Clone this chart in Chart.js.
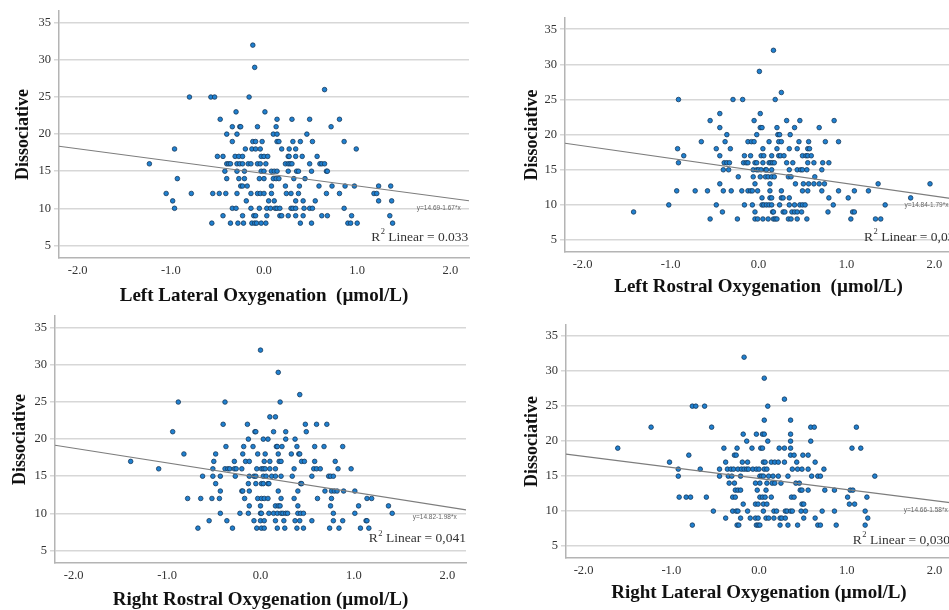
<!DOCTYPE html>
<html>
<head>
<meta charset="utf-8">
<script src="https://cdn.jsdelivr.net/npm/chart.js@4.4.1/dist/chart.umd.min.js"></script>
<style>
  html, body { margin: 0; padding: 0; background: #fff; }
  body { width: 949px; height: 610px; overflow: hidden; position: relative; }
  .panel { position: absolute; }
</style>
</head>
<body>
<div class="panel" id="w0"><canvas id="c0"></canvas></div>
<div class="panel" id="w1"><canvas id="c1"></canvas></div>
<div class="panel" id="w2"><canvas id="c2"></canvas></div>
<div class="panel" id="w3"><canvas id="c3"></canvas></div>
<script>
// ---------------- DATA ----------------
// Dissociative score levels (y values); each panel lists the x values found at each level.
const dissociativeLevels = [32, 29, 26, 25, 23, 22, 21, 20, 19, 18, 17, 16, 15, 14, 13, 12, 11, 10, 9, 8];

const leftLateralX = [
  [-0.12],
  [-0.10],
  [0.65],
  [-0.80, -0.57, -0.53, -0.16],
  [-0.30, 0.01],
  [-0.47, 0.14, 0.30, 0.49, 0.81],
  [-0.34, -0.26, -0.25, -0.07, 0.13, 0.72],
  [-0.40, -0.29, 0.10, 0.14, 0.46],
  [-0.34, -0.12, -0.09, -0.02, 0.14, 0.16, 0.31, 0.39, 0.52, 0.86],
  [-0.96, -0.20, -0.13, -0.09, -0.04, 0.19, 0.27, 0.34, 0.99],
  [-0.50, -0.44, -0.31, -0.27, -0.23, -0.03, 0.00, 0.04, 0.26, 0.27, 0.34, 0.41, 0.57],
  [-1.23, -0.40, -0.38, -0.36, -0.29, -0.26, -0.23, -0.17, -0.14, -0.07, -0.04, 0.02, 0.23, 0.26, 0.28, 0.30, 0.49, 0.60, 0.62, 0.65],
  [-0.42, -0.29, -0.21, -0.03, 0.00, 0.08, 0.11, 0.14, 0.26, 0.35, 0.37, 0.51, 0.67, 0.68],
  [-0.93, -0.40, -0.27, -0.21, -0.05, 0.00, 0.10, 0.13, 0.16, 0.32, 0.44],
  [-0.25, -0.23, -0.18, 0.08, 0.23, 0.38, 0.59, 0.73, 0.87, 0.97, 1.23, 1.36],
  [-1.05, -0.78, -0.55, -0.48, -0.41, -0.29, -0.14, -0.07, -0.04, 0.00, 0.08, 0.24, 0.29, 0.37, 0.67, 0.81, 1.18, 1.21],
  [-0.98, -0.19, 0.05, 0.11, 0.34, 0.42, 0.55, 1.23, 1.37],
  [-0.96, -0.34, -0.30, -0.14, -0.05, 0.03, 0.07, 0.12, 0.14, 0.17, 0.29, 0.31, 0.34, 0.43, 0.49, 0.52, 0.86],
  [-0.44, -0.23, -0.11, -0.09, 0.03, 0.17, 0.19, 0.26, 0.34, 0.42, 0.62, 0.68, 0.94, 1.35],
  [-0.56, -0.36, -0.28, -0.22, -0.13, -0.10, -0.08, -0.03, 0.02, 0.39, 0.51, 0.90, 0.93, 1.00, 1.38]
];

const leftRostralX = [
  [0.17],
  [0.01],
  [0.26],
  [-0.91, -0.29, -0.18, 0.19],
  [-0.44, 0.02],
  [-0.55, -0.05, 0.32, 0.47, 0.86],
  [-0.44, 0.02, 0.04, 0.21, 0.41, 0.69],
  [-0.36, -0.02, 0.22, 0.24, 0.36],
  [-0.65, -0.38, -0.12, -0.08, -0.05, 0.12, 0.23, 0.26, 0.46, 0.57, 0.76, 0.91],
  [-0.92, -0.48, -0.32, 0.05, 0.21, 0.35, 0.44, 0.56, 0.58],
  [-0.85, -0.44, -0.16, -0.09, 0.03, 0.06, 0.15, 0.23, 0.25, 0.29, 0.50, 0.54, 0.56, 0.60],
  [-0.91, -0.39, -0.36, -0.33, -0.17, -0.14, -0.12, -0.04, -0.02, 0.05, 0.12, 0.14, 0.16, 0.18, 0.32, 0.39, 0.56, 0.63, 0.73, 0.80],
  [-0.40, -0.34, -0.06, -0.02, 0.00, 0.03, 0.08, 0.09, 0.15, 0.35, 0.44, 0.48, 0.50, 0.55, 0.72],
  [-0.23, -0.06, 0.02, 0.08, 0.11, 0.15, 0.18, 0.34, 0.37, 0.64],
  [-0.44, -0.04, 0.13, 0.42, 0.51, 0.57, 0.63, 0.69, 0.75, 1.36, 1.95],
  [-0.93, -0.72, -0.58, -0.40, -0.31, -0.19, -0.12, -0.09, -0.07, -0.01, 0.13, 0.26, 0.50, 0.56, 0.72, 0.91, 1.09, 1.25],
  [0.04, 0.13, 0.15, 0.26, 0.28, 0.35, 0.80, 1.02, 1.73],
  [-1.02, -0.48, -0.16, -0.07, 0.04, 0.06, 0.09, 0.12, 0.15, 0.24, 0.35, 0.41, 0.47, 0.50, 0.53, 0.85, 1.44],
  [-1.42, -0.41, -0.04, 0.16, 0.17, 0.28, 0.30, 0.38, 0.41, 0.44, 0.49, 0.79, 1.07, 1.09],
  [-0.55, -0.24, -0.04, -0.01, 0.05, 0.11, 0.17, 0.19, 0.21, 0.34, 0.37, 0.44, 0.55, 1.05, 1.33, 1.39]
];

const rightRostralX = [
  [0.00],
  [0.19],
  [0.42],
  [-0.88, -0.38, 0.21],
  [0.10, 0.16],
  [-0.40, -0.14, 0.48, 0.60, 0.71],
  [-0.94, -0.06, -0.05, 0.14, 0.27, 0.49],
  [-0.13, 0.03, 0.08, 0.27, 0.37],
  [-0.37, -0.18, -0.08, 0.17, 0.18, 0.23, 0.39, 0.58, 0.68, 0.88],
  [-0.82, -0.48, -0.19, -0.03, 0.05, 0.19, 0.33, 0.41, 0.42],
  [-1.39, -0.50, -0.28, -0.16, -0.12, 0.04, 0.10, 0.20, 0.22, 0.44, 0.47, 0.58, 0.80],
  [-1.09, -0.51, -0.38, -0.35, -0.33, -0.28, -0.26, -0.20, -0.04, 0.01, 0.03, 0.05, 0.10, 0.16, 0.36, 0.57, 0.60, 0.64, 0.83, 0.97],
  [-0.62, -0.51, -0.43, -0.27, -0.12, -0.07, -0.05, 0.03, 0.06, 0.12, 0.16, 0.22, 0.34, 0.55, 0.73, 0.75, 0.78],
  [-0.48, -0.13, -0.05, 0.01, 0.03, 0.08, 0.09, 0.43, 0.44],
  [-0.43, -0.20, -0.19, -0.12, 0.19, 0.40, 0.69, 0.76, 0.79, 0.82, 0.89, 1.01],
  [-0.78, -0.64, -0.52, -0.44, -0.17, -0.03, 0.01, 0.04, 0.08, 0.22, 0.36, 0.61, 0.76, 1.14, 1.19],
  [-0.12, 0.00, 0.16, 0.19, 0.21, 0.40, 0.75, 1.05, 1.37],
  [-0.43, -0.22, -0.13, 0.00, 0.01, 0.09, 0.14, 0.18, 0.22, 0.24, 0.27, 0.29, 0.40, 0.43, 0.46, 0.78, 1.01, 1.41],
  [-0.55, -0.36, -0.07, 0.00, 0.04, 0.16, 0.25, 0.37, 0.42, 0.55, 0.78, 0.88, 1.13, 1.14],
  [-0.67, -0.30, -0.04, 0.01, 0.04, 0.18, 0.26, 0.39, 0.46, 0.74, 0.84, 1.07, 1.16]
];

const rightLateralX = [
  [-0.17],
  [0.06],
  [0.29],
  [-0.76, -0.72, -0.62, 0.10],
  [0.06, 0.36],
  [-1.23, -0.54, 0.59, 0.63, 1.11],
  [-0.18, -0.03, 0.04, 0.06, 0.36],
  [-0.14, 0.10, 0.36, 0.59],
  [-1.61, -0.40, -0.25, -0.08, 0.02, 0.04, 0.23, 0.29, 0.36, 1.06, 1.16],
  [-0.80, -0.28, -0.26, 0.36, 0.40, 0.50, 0.56],
  [-1.02, -0.38, -0.19, -0.13, 0.05, 0.07, 0.14, 0.18, 0.22, 0.29, 0.43, 0.64],
  [-0.92, -0.67, -0.45, -0.36, -0.32, -0.29, -0.24, -0.20, -0.17, -0.14, -0.12, -0.07, -0.03, 0.00, 0.06, 0.09, 0.38, 0.44, 0.49, 0.56, 0.74],
  [-0.92, -0.45, -0.35, -0.31, -0.21, 0.01, 0.03, 0.05, 0.11, 0.16, 0.22, 0.33, 0.60, 0.67, 0.70, 1.32],
  [-0.34, -0.28, -0.04, 0.01, 0.09, 0.15, 0.18, 0.25, 0.42, 0.46],
  [-0.27, -0.24, -0.21, -0.02, 0.08, 0.47, 0.49, 0.56, 0.75, 0.86, 1.04, 1.07],
  [-0.91, -0.83, -0.78, -0.60, -0.30, -0.27, 0.01, 0.04, 0.07, 0.14, 0.37, 0.40, 1.01, 1.23],
  [-0.18, -0.04, -0.01, 0.05, 0.09, 0.49, 0.51, 1.03, 1.09],
  [-0.52, -0.30, -0.26, -0.24, -0.13, 0.05, 0.17, 0.20, 0.30, 0.32, 0.36, 0.38, 0.48, 0.53, 0.72, 0.86, 1.21],
  [-0.38, -0.21, -0.10, -0.04, -0.01, 0.08, 0.11, 0.17, 0.24, 0.26, 0.30, 0.51, 0.64, 1.24],
  [-0.76, -0.25, -0.23, -0.03, -0.01, 0.01, 0.24, 0.33, 0.44, 0.67, 0.70, 0.88, 1.21]
];

const panelXTitles = [
  "Left Lateral Oxygenation  (\u00b5mol/L)",
  "Left Rostral Oxygenation  (\u00b5mol/L)",
  "Right Rostral Oxygenation (\u00b5mol/L)",
  "Right Lateral Oxygenation (\u00b5mol/L)"
];
const yAxisTitle = "Dissociative";
const fitIntercepts = [14.69, 14.84, 14.82, 14.66];
const fitSlopes = [-1.67, -1.79, -1.98, -1.58];
const equationLabels = ["y=14.69-1.67*x", "y=14.84-1.79*x", "y=14.82-1.98*x", "y=14.66-1.58*x"];
const r2Values = ["0.033", "0,038", "0,041", "0,030"];
const xTickValues = [-2, -1, 0, 1, 2];
const yTickValues = [5, 10, 15, 20, 25, 30, 35];

// ---------------- LAYOUT (page pixels) ----------------
const layouts = [
  { box: {l: 0,   t: 0,   w: 475, h: 312}, plot: {l: 59,  t: 11,  r: 469, b: 258}, xTitleY: 296, yTitleX: 23,  eqX: 1.64, r2X: 1.15, r2Y: 6.1 },
  { box: {l: 480, t: 0,   w: 480, h: 312}, plot: {l: 565, t: 18,  r: 952, b: 252}, xTitleY: 287, yTitleX: 532, eqX: 1.66, r2X: 1.20, r2Y: 5.4 },
  { box: {l: 0,   t: 300, w: 475, h: 310}, plot: {l: 55,  t: 316, r: 466, b: 563}, xTitleY: 600, yTitleX: 20,  eqX: 1.63, r2X: 1.16, r2Y: 6.6 },
  { box: {l: 480, t: 300, w: 480, h: 310}, plot: {l: 566, t: 325, r: 952, b: 558}, xTitleY: 593, yTitleX: 532, eqX: 1.65, r2X: 1.07, r2Y: 5.85 }
];
const X_MIN = -2.2, X_MAX = 2.2, Y_MIN = 3.3, Y_MAX = 36.6;

const SERIF = "'Liberation Serif', 'Times New Roman', Times, serif";
Chart.defaults.font.family = SERIF;
Chart.defaults.color = '#333';

const fitLabelPlugin = {
  id: 'fitLabels',
  afterDatasetsDraw(chart) {
    const i = chart.options.plugins.fitLabels.index;
    const L = layouts[i];
    const { ctx, scales: { x, y } } = chart;
    ctx.save();
    // regression equation
    const yEnd = fitIntercepts[i] + fitSlopes[i] * X_MAX;
    ctx.font = "6.5px 'Liberation Sans', Arial, sans-serif";
    ctx.fillStyle = '#666';
    ctx.textAlign = 'left';
    ctx.textBaseline = 'middle';
    ctx.fillText(equationLabels[i], x.getPixelForValue(L.eqX), y.getPixelForValue(yEnd - 1.0));
    // R^2 Linear label
    const big = "13.5px " + SERIF, small = "8.5px " + SERIF;
    const rest = " Linear = " + r2Values[i];
    let px = x.getPixelForValue(L.r2X);
    const py = y.getPixelForValue(L.r2Y);
    ctx.fillStyle = '#333';
    ctx.font = big;
    ctx.fillText('R', px, py);
    px += ctx.measureText('R').width + 0.5;
    ctx.font = small;
    ctx.fillText('2', px, py - 5);
    px += ctx.measureText('2').width;
    ctx.font = big;
    ctx.fillText(rest, px, py);
    ctx.restore();
  }
};

const panelData = [leftLateralX, leftRostralX, rightRostralX, rightLateralX];

panelData.forEach((rows, i) => {
  const L = layouts[i];
  const wrap = document.getElementById('w' + i);
  wrap.style.left = L.box.l + 'px';
  wrap.style.top = L.box.t + 'px';
  wrap.style.width = L.box.w + 'px';
  wrap.style.height = L.box.h + 'px';

  const points = [];
  rows.forEach((xs, k) => xs.forEach(xv => points.push({ x: xv, y: dissociativeLevels[k] })));
  const fitLine = [X_MIN, X_MAX].map(xv => ({ x: xv, y: fitIntercepts[i] + fitSlopes[i] * xv }));

  const yAxisWidth = L.plot.l - L.box.l;
  const xAxisHeight = L.box.t + L.box.h - L.plot.b;
  const xTitleFont = 19, yTitleFont = 18;

  new Chart(document.getElementById('c' + i), {
    type: 'scatter',
    data: {
      datasets: [
        {
          type: 'line',
          data: fitLine,
          borderColor: '#7d7d7d',
          borderWidth: 1.2,
          pointRadius: 0,
          fill: false,
          order: 0
        },
        {
          data: points,
          backgroundColor: '#1f80d0',
          borderColor: '#17385a',
          borderWidth: 0.8,
          pointRadius: 2.3,
          order: 1
        }
      ]
    },
    options: {
      responsive: true,
      maintainAspectRatio: false,
      animation: false,
      events: [],
      layout: {
        padding: { top: L.plot.t - L.box.t, right: L.box.l + L.box.w - L.plot.r, left: 0, bottom: 0 }
      },
      plugins: {
        legend: { display: false },
        tooltip: { enabled: false },
        fitLabels: { index: i }
      },
      scales: {
        x: {
          type: 'linear',
          min: X_MIN,
          max: X_MAX,
          afterBuildTicks: (axis) => { axis.ticks = xTickValues.map(v => ({ value: v })); },
          afterFit: (s) => { s.height = xAxisHeight; },
          grid: { display: false, drawTicks: false },
          border: { display: true, color: '#b4b4b4', width: 1.5 },
          ticks: {
            padding: 5,
            color: '#333',
            font: { size: 12.5 },
            maxRotation: 0,
            callback: (v) => Number(v).toFixed(1)
          },
          title: {
            display: true,
            text: panelXTitles[i],
            color: '#111',
            font: { size: xTitleFont, weight: 'bold', lineHeight: 1 },
            padding: { top: 0, bottom: (L.box.t + L.box.h) - L.xTitleY - xTitleFont / 2 }
          }
        },
        y: {
          type: 'linear',
          min: Y_MIN,
          max: Y_MAX,
          afterBuildTicks: (axis) => { axis.ticks = yTickValues.map(v => ({ value: v })); },
          afterFit: (s) => { s.width = yAxisWidth; },
          grid: { display: true, color: '#d7d7d7', lineWidth: 1.5, drawTicks: true, tickLength: 5 },
          border: { display: true, color: '#b4b4b4', width: 1.5 },
          ticks: {
            padding: 3,
            color: '#333',
            font: { size: 12.5 },
            callback: (v) => String(v)
          },
          title: {
            display: true,
            text: yAxisTitle,
            color: '#111',
            font: { size: yTitleFont, weight: 'bold', lineHeight: 1 },
            padding: { top: L.yTitleX - L.box.l - yTitleFont / 2, bottom: 0 }
          }
        }
      }
    },
    plugins: [fitLabelPlugin]
  });
});
</script>
</body>
</html>
